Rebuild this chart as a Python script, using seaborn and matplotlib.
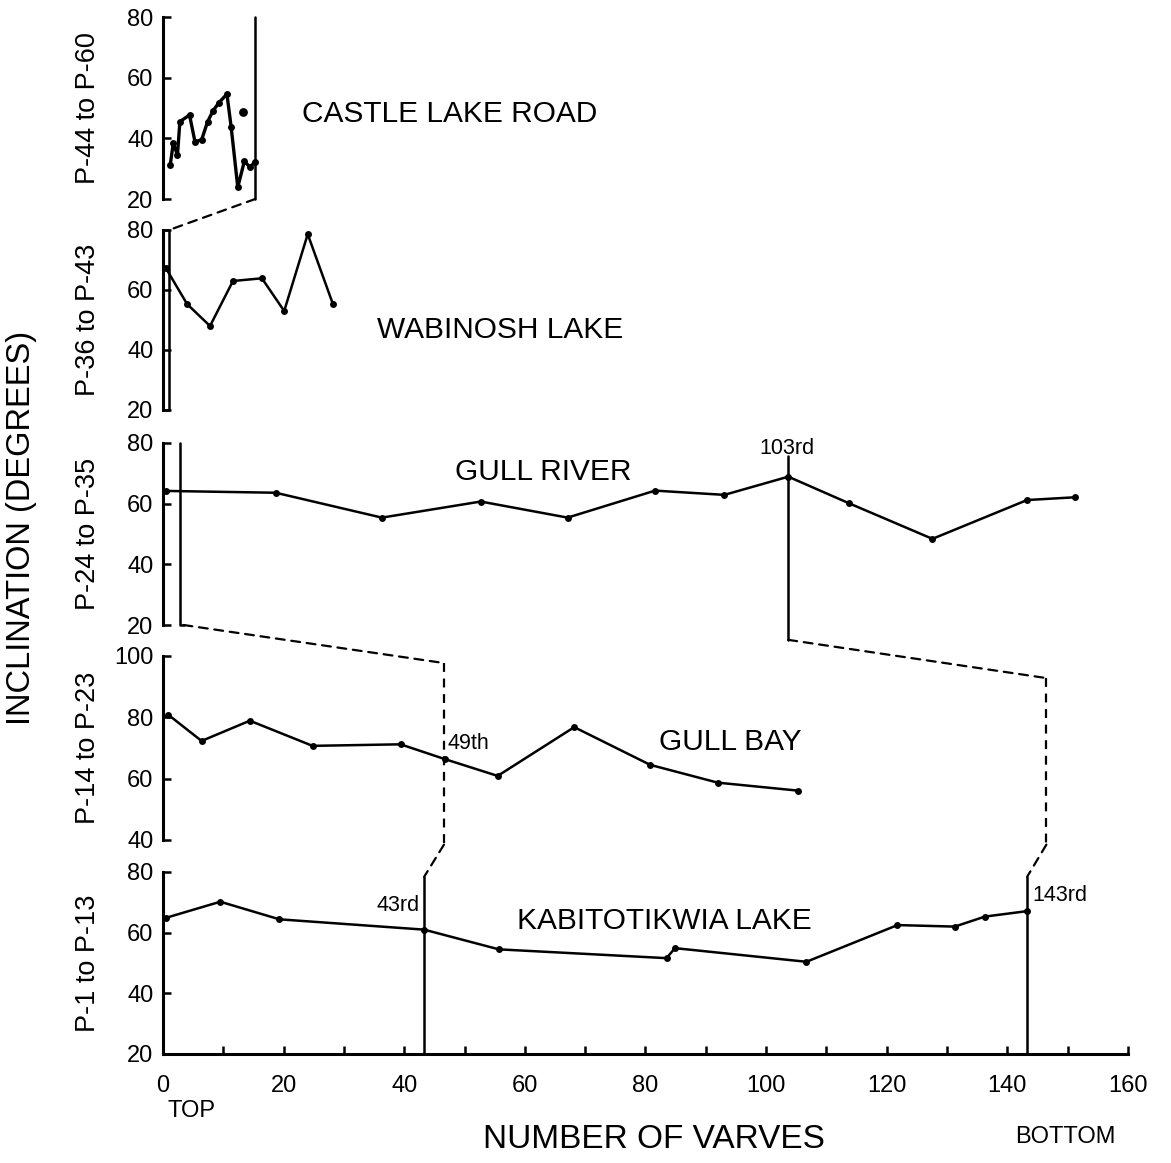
"""
plot.py
Varve inclination records for five sections, stacked, with tie lines between them
"""

import matplotlib
matplotlib.use("Agg")
import matplotlib.pyplot as plt
import matplotlib.transforms as mtransforms
from matplotlib.patches import ConnectionPatch
import seaborn as sns

# Data: varve number vs inclination (degrees)
castle_x = [1.2, 1.7, 2.4, 2.8, 4.4, 5.3, 6.4, 7.4, 8.3, 9.3, 10.6, 11.3, 12.4, 13.5, 14.4, 15.3]
castle_y = [31.2, 38.4, 34.5, 45.5, 47.7, 38.9, 39.5, 45.5, 49.1, 51.8, 54.6, 43.8, 23.9, 32.5, 30.5, 32.3]
castle_extra_x = [13.3]
castle_extra_y = [48.8]

wabinosh_x = [0.5, 4.0, 7.8, 11.6, 16.4, 20.1, 24.0, 28.2]
wabinosh_y = [67.2, 55.3, 48.0, 63.0, 63.9, 53.0, 78.6, 55.2]

gull_river_x = [0.5, 18.7, 36.3, 52.7, 67.1, 81.6, 93.1, 103.7, 113.8, 127.6, 143.3, 151.2]
gull_river_y = [64.2, 63.6, 55.4, 60.7, 55.4, 64.3, 62.9, 68.9, 60.1, 48.4, 61.2, 62.1]

gull_bay_x = [0.9, 6.4, 14.4, 24.8, 39.4, 46.7, 55.5, 68.2, 80.8, 92.0, 105.3]
gull_bay_y = [80.8, 72.3, 78.9, 70.7, 71.2, 66.4, 60.9, 76.8, 64.5, 58.7, 56.1]

kabit_x = [0.5, 9.5, 19.3, 43.3, 55.7, 83.5, 84.9, 106.7, 121.8, 131.3, 136.3, 143.3]
kabit_y = [64.9, 70.2, 64.4, 61.0, 54.5, 51.6, 54.9, 50.4, 62.5, 62.0, 65.3, 67.1]

# tie positions (varve numbers)
castle_end = 15.3
wabinosh_box = 1.0
gull_river_box = 2.8
tie_43 = 43.3
tie_49 = 46.6
tie_103 = 103.7
tie_143 = 143.3
gull_bay_right = 146.5

x_ticks = [0, 20, 40, 60, 80, 100, 120, 140, 160]

sns.set_theme(style="ticks")
plt.rcParams["font.family"] = ["Liberation Sans", "DejaVu Sans"]
for key in ["text.color", "axes.labelcolor", "xtick.color", "ytick.color", "axes.edgecolor"]:
    plt.rcParams[key] = "black"

W, H = 1171, 1163
fig = plt.figure(figsize=(W / 100, H / 100), dpi=100)
L = 163 / W
AW = 964.8 / W


def add_panel(top_px, bot_px):
    return fig.add_axes([L, 1 - bot_px / H, AW, (bot_px - top_px) / H])


LW = 1.8
MS = 5
DASH = (0, (4, 3))

panels = [
    # top, bottom, ylim, yticks, ylabel, x, y, title, title pos
    (17, 199, (20, 80), [20, 40, 60, 80], "P-44 to P-60", castle_x, castle_y,
     "CASTLE LAKE ROAD", (47.6, 48.0)),
    (230, 410, (20, 80), [20, 40, 60, 80], "P-36 to P-43", wabinosh_x, wabinosh_y,
     "WABINOSH LAKE", (55.9, 46.7)),
    (443, 625, (20, 80), [20, 40, 60, 80], "P-24 to P-35", gull_river_x, gull_river_y,
     "GULL RIVER", (63.0, 70.4)),
    (656, 840, (40, 100), [40, 60, 80, 100], "P-14 to P-23", gull_bay_x, gull_bay_y,
     "GULL BAY", (94.0, 72.0)),
    (872, 1054, (20, 80), [20, 40, 60, 80], "P-1 to P-13", kabit_x, kabit_y,
     "KABITOTIKWIA LAKE", (83.1, 63.9)),
]

axes = []
for i, (top, bot, ylim, yt, ylab, xs, ys, title, tpos) in enumerate(panels):
    ax = add_panel(top, bot)
    lw = 2.4 if i == 0 else LW
    sns.lineplot(x=xs, y=ys, ax=ax, color="black", linewidth=lw, marker="o",
                 markersize=MS, markeredgewidth=0, estimator=None, sort=False,
                 clip_on=False)
    ax.set_xlim(0, 160)
    ax.set_ylim(*ylim)
    ax.set_yticks(yt)
    ax.tick_params(axis="y", direction="in", length=6, width=1.8, labelsize=17, pad=7)
    ax.spines["left"].set_linewidth(2.2)
    for s in ["top", "right"]:
        ax.spines[s].set_visible(False)
    if i < len(panels) - 1:
        ax.spines["bottom"].set_visible(False)
        ax.set_xticks([])
    ax.set_facecolor("none")
    ax.text(-0.078, 0.5, ylab, transform=ax.transAxes, rotation=90,
            ha="center", va="center", fontsize=19.5)
    ax.text(tpos[0], tpos[1], title, ha="center", va="center", fontsize=21.5)
    axes.append(ax)

ax_cl, ax_wb, ax_gr, ax_gb, ax_kl = axes

# isolated point in the Castle Lake Road record
sns.scatterplot(x=castle_extra_x, y=castle_extra_y, ax=ax_cl, color="black",
                s=40, linewidth=0, clip_on=False)

# bottom axis
ax_kl.set_xticks(x_ticks)
ax_kl.set_xticks(range(10, 160, 20), minor=True)
ax_kl.tick_params(axis="x", which="both", direction="in", length=6, width=1.8,
                  labelsize=17, pad=15)
ax_kl.spines["bottom"].set_linewidth(2.2)

line_kw = dict(color="black", linewidth=LW, clip_on=False)
dash_kw = dict(color="black", linewidth=1.6, linestyle=DASH, clip_on=False)

# Castle Lake Road: right boundary line
ax_cl.plot([castle_end, castle_end], [20, 80], **line_kw)
# Wabinosh: narrow box at the top of the record
ax_wb.plot([0, wabinosh_box, wabinosh_box, 0], [80, 80, 20, 20], **line_kw)
# Gull River: second boundary line and the 103rd varve tie
ax_gr.plot([gull_river_box, gull_river_box, gull_river_box + 0.6], [80, 20, 20], **line_kw)
ax_gr.plot([tie_103, tie_103], [75.7, 15.1], **line_kw)
# Kabitotikwia: 43rd and 143rd varve ties
ax_kl.plot([tie_43, tie_43], [78.4, 20], **line_kw)
ax_kl.plot([tie_143, tie_143], [78.4, 20], **line_kw)
# Gull Bay: dashed verticals
ax_gb.plot([tie_49, tie_49], [97.7, 38.5], **dash_kw)
ax_gb.plot([gull_bay_right, gull_bay_right], [92.8, 38.5], **dash_kw)


def connect(a, pa, b, pb):
    con = ConnectionPatch(xyA=pa, coordsA=a.transData, xyB=pb, coordsB=b.transData,
                          color="black", linewidth=1.6, linestyle=DASH)
    fig.add_artist(con)


connect(ax_cl, (castle_end, 20), ax_wb, (wabinosh_box, 80))
connect(ax_gr, (gull_river_box + 0.6, 20), ax_gb, (tie_49, 97.7))
connect(ax_gr, (tie_103, 15.1), ax_gb, (gull_bay_right, 92.8))
connect(ax_gb, (tie_49, 38.5), ax_kl, (tie_43, 78.4))
connect(ax_gb, (gull_bay_right, 38.5), ax_kl, (tie_143, 78.4))

# tie annotations
ax_gr.text(tie_103 - 0.2, 78.2, "103rd", ha="center", va="center", fontsize=15.5)
ax_gb.text(tie_49 + 0.6, 71.6, "49th", ha="left", va="center", fontsize=15.5)
ax_kl.text(tie_43 - 0.7, 68.8, "43rd", ha="right", va="center", fontsize=15.5)
ax_kl.text(tie_143 + 0.9, 72.4, "143rd", ha="left", va="center", fontsize=15.5)

# axis titles and end labels
blend = mtransforms.blended_transform_factory(ax_kl.transData, fig.transFigure)
ax_kl.text(4.8, 1 - 1111 / H, "TOP", transform=blend, ha="center", va="center", fontsize=17)
ax_kl.text(149.7, 1 - 1137 / H, "BOTTOM", transform=blend, ha="center", va="center", fontsize=17)
fig.text(654 / W, 1 - 1140 / H, "NUMBER OF VARVES", ha="center", va="center", fontsize=24)
fig.text(22 / W, 1 - 528 / H, "INCLINATION (DEGREES)", rotation=90,
         ha="center", va="center", fontsize=23.5)

fig.savefig("out.png", dpi=100, facecolor="white")
